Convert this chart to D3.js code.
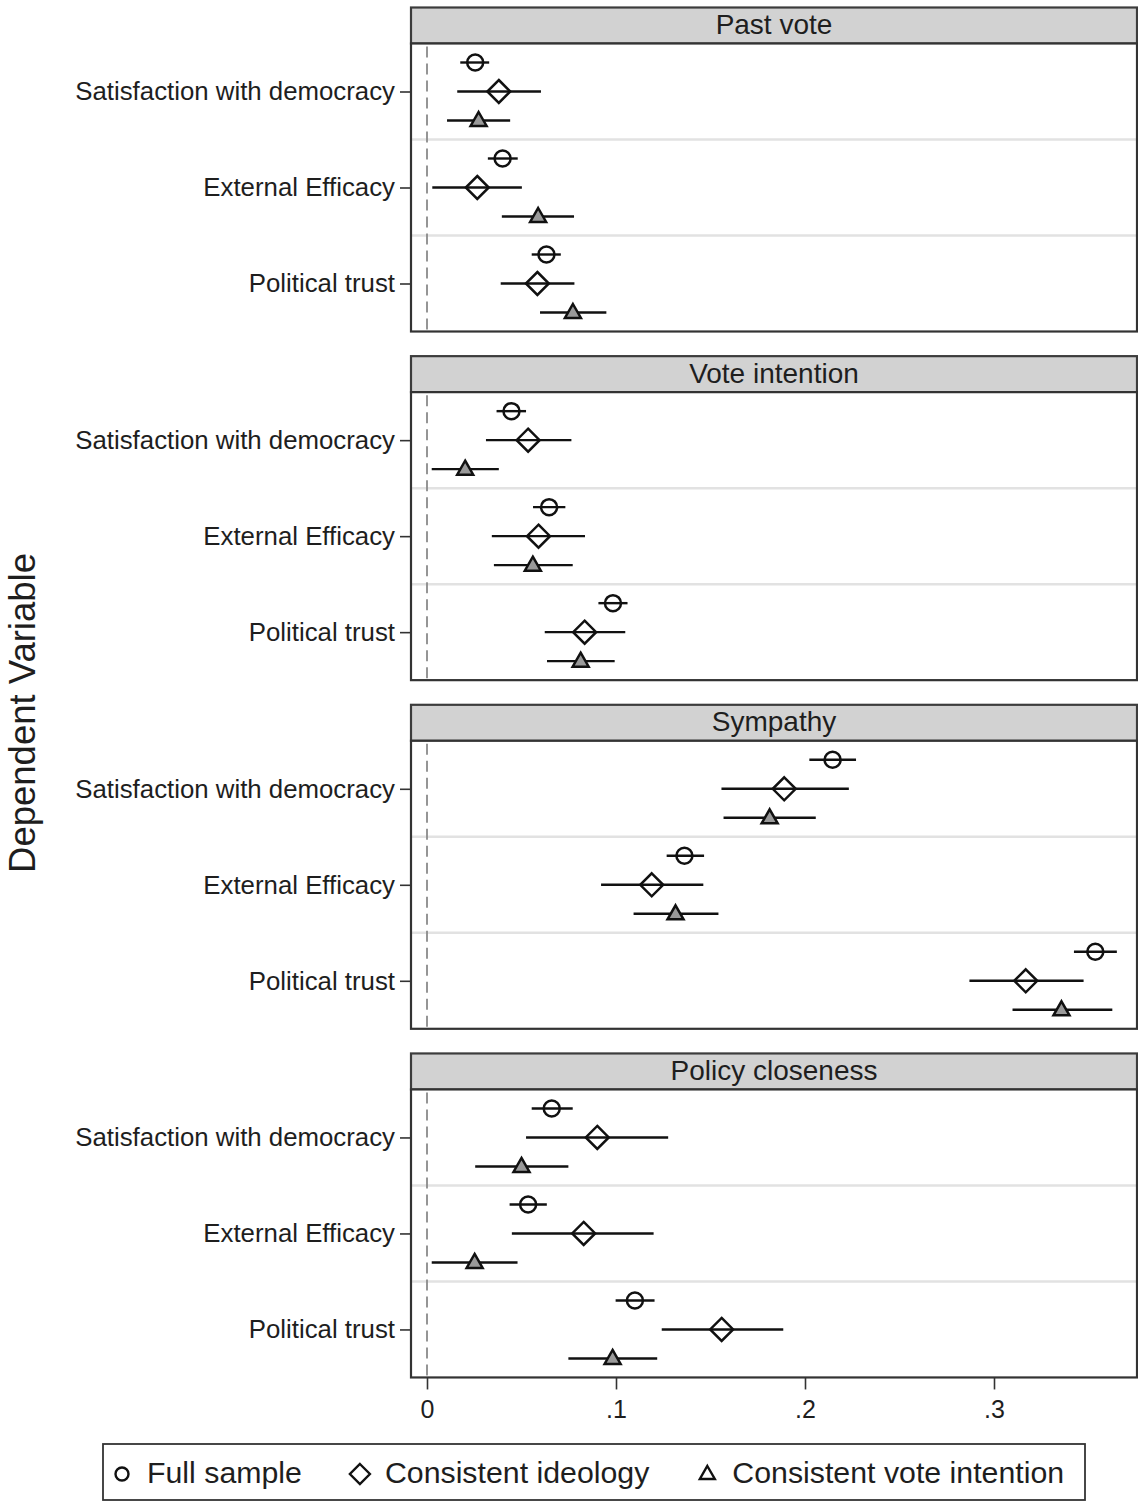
<!DOCTYPE html>
<html><head><meta charset="utf-8">
<script src="https://cdn.jsdelivr.net/npm/d3@7"></script>
<style>
html,body{margin:0;padding:0;background:#fff;}
svg{display:block;font-family:"Liberation Sans",Arial,sans-serif;}
</style></head>
<body>
<svg id="chart" width="1138" height="1502"></svg>
<script>
// ---------------- data ----------------
const panels = ["Past vote", "Vote intention", "Sympathy", "Policy closeness"];
const measures = ["Satisfaction with democracy", "External Efficacy", "Political trust"];
const seriesNames = ["Full sample", "Consistent ideology", "Consistent vote intention"];
const xTicks = [0, 0.1, 0.2, 0.3];
const xTickLabels = ["0", ".1", ".2", ".3"];

// rows: measures; columns: series (Full sample, Consistent ideology, Consistent vote intention)
const pastVoteEst = [[0.0255, 0.0380, 0.0273], [0.0400, 0.0266, 0.0588], [0.0632, 0.0584, 0.0772]];
const pastVoteLo  = [[0.0176, 0.0160, 0.0106], [0.0322, 0.0028, 0.0396], [0.0554, 0.0390, 0.0598]];
const pastVoteHi  = [[0.0329, 0.0603, 0.0440], [0.0480, 0.0502, 0.0778], [0.0708, 0.0780, 0.0949]];

const voteIntEst = [[0.0447, 0.0535, 0.0202], [0.0646, 0.0590, 0.0560], [0.0984, 0.0834, 0.0813]];
const voteIntLo  = [[0.0368, 0.0312, 0.0025], [0.0561, 0.0343, 0.0354], [0.0907, 0.0623, 0.0635]];
const voteIntHi  = [[0.0524, 0.0764, 0.0380], [0.0732, 0.0836, 0.0771], [0.1061, 0.1049, 0.0993]];

const sympathyEst = [[0.2146, 0.1890, 0.1813], [0.1362, 0.1189, 0.1315], [0.3536, 0.3168, 0.3357]];
const sympathyLo  = [[0.2023, 0.1558, 0.1569], [0.1268, 0.0921, 0.1093], [0.3423, 0.2870, 0.3098]];
const sympathyHi  = [[0.2270, 0.2232, 0.2057], [0.1466, 0.1462, 0.1542], [0.3650, 0.3474, 0.3626]];

const policyEst = [[0.0660, 0.0901, 0.0500], [0.0535, 0.0829, 0.0252], [0.1100, 0.1559, 0.0982]];
const policyLo  = [[0.0554, 0.0524, 0.0255], [0.0437, 0.0449, 0.0025], [0.0998, 0.1242, 0.0748]];
const policyHi  = [[0.0771, 0.1276, 0.0748], [0.0634, 0.1199, 0.0479], [0.1204, 0.1885, 0.1218]];

const panelEst = [pastVoteEst, voteIntEst, sympathyEst, policyEst];
const panelLo  = [pastVoteLo, voteIntLo, sympathyLo, policyLo];
const panelHi  = [pastVoteHi, voteIntHi, sympathyHi, policyHi];

// ---------------- layout ----------------
const svg = d3.select("#chart");
const plotLeft = 411, plotRight = 1137;
const headerH = 36, plotH = 288;
const textColor = "#1e1e1e";

const x = d3.scaleLinear().domain([0, 0.3]).range([427, 994]);

const panelScale = d3.scaleBand().domain(panels).range([7.5, 1377]).paddingInner(0.072);
const groupScale = d3.scaleBand().domain(measures).range([0, plotH]);
const rowScale = d3.scalePoint().domain(seriesNames).range([-29, 29]);

const circlePath = r => d3.symbol().type(d3.symbolCircle).size(Math.PI * r * r)();
function markerPath(s) {
  if (s === 0) { return circlePath(8); }
  if (s === 1) { const h = 11.5; return `M0,${-h}L${h},0L0,${h}L${-h},0Z`; }
  return `M0,-8.5L8,5.5L-8,5.5Z`;
}

panels.forEach((p, pi) => {
  const top = panelScale(p);
  const g = svg.append("g");
  // header
  g.append("rect").attr("x", plotLeft).attr("y", top).attr("width", plotRight - plotLeft).attr("height", headerH)
    .attr("fill", "#d2d2d2").attr("stroke", "#3c3c3c").attr("stroke-width", 2.2);
  g.append("text").attr("x", (plotLeft + plotRight) / 2).attr("y", top + headerH / 2 + 1)
    .attr("text-anchor", "middle").attr("dominant-baseline", "middle")
    .attr("font-size", 28).attr("fill", textColor).text(p);

  const pTop = top + headerH;
  g.append("rect").attr("x", plotLeft).attr("y", pTop).attr("width", plotRight - plotLeft).attr("height", plotH)
    .attr("fill", "#fff");
  // group separators
  measures.slice(1).forEach(m => {
    g.append("line").attr("x1", plotLeft).attr("x2", plotRight)
      .attr("y1", pTop + groupScale(m)).attr("y2", pTop + groupScale(m))
      .attr("stroke", "#e2e2e2").attr("stroke-width", 2.5);
  });
  // zero reference
  g.append("line").attr("x1", x(0)).attr("x2", x(0)).attr("y1", pTop + 3).attr("y2", pTop + plotH - 2)
    .attr("stroke", "#8a8a8a").attr("stroke-width", 1.8).attr("stroke-dasharray", "11,6");

  // y axis
  const yAxisScale = d3.scalePoint().domain(measures).range([groupScale.bandwidth() / 2, plotH - groupScale.bandwidth() / 2]);
  const ya = g.append("g").attr("transform", `translate(${plotLeft},${pTop})`)
    .call(d3.axisLeft(yAxisScale).tickSize(11).tickPadding(5));
  ya.select(".domain").remove();
  ya.selectAll(".tick line").attr("stroke", "#333").attr("stroke-width", 1.6);
  ya.selectAll(".tick text").attr("font-size", 25.8).attr("fill", textColor)
    .attr("font-family", "\"Liberation Sans\",Arial,sans-serif");

  // estimates
  const est = panelEst[pi], lo = panelLo[pi], hi = panelHi[pi];
  measures.forEach((m, mi) => {
    seriesNames.forEach((s, si) => {
      const cy = pTop + groupScale(m) + groupScale.bandwidth() / 2 + rowScale(s);
      g.append("line").attr("x1", x(lo[mi][si])).attr("x2", x(hi[mi][si]))
        .attr("y1", cy).attr("y2", cy).attr("stroke", "#111").attr("stroke-width", 2.4);
      g.append("path").attr("d", markerPath(si))
        .attr("transform", `translate(${x(est[mi][si])},${cy})`)
        .attr("fill", si === 2 ? "#9a9a9a" : "none").attr("stroke", "#111").attr("stroke-width", 2.5);
    });
  });

  // border
  g.append("rect").attr("x", plotLeft).attr("y", pTop).attr("width", plotRight - plotLeft).attr("height", plotH)
    .attr("fill", "none").attr("stroke", "#333").attr("stroke-width", 2.2);

  // x axis on last panel
  if (pi === panels.length - 1) {
    const xa = g.append("g").attr("transform", `translate(0,${pTop + plotH})`)
      .call(d3.axisBottom(x).tickValues(xTicks).tickFormat((d, i) => xTickLabels[i]).tickSize(12).tickPadding(11));
    xa.select(".domain").remove();
    xa.selectAll(".tick line").attr("stroke", "#333").attr("stroke-width", 1.6);
    xa.selectAll(".tick text").attr("font-size", 25).attr("fill", textColor)
      .attr("font-family", "\"Liberation Sans\",Arial,sans-serif");
  }
});

// y axis title
svg.append("text").attr("transform", "translate(35,713) rotate(-90)")
  .attr("text-anchor", "middle").attr("font-size", 36.5).attr("fill", textColor).text("Dependent Variable");

// legend
const legY = 1475;
const leg = svg.append("g");
leg.append("rect").attr("x", 103).attr("y", 1444).attr("width", 982).attr("height", 56)
  .attr("fill", "#fff").attr("stroke", "#333").attr("stroke-width", 1.8);
let cx = 122;
seriesNames.forEach((s, si) => {
  const mk = si === 0 ? d3.symbol().type(d3.symbolCircle).size(Math.PI * 6.5 * 6.5)()
           : si === 1 ? "M0,-10L10,0L0,10L-10,0Z" : "M0,-8L7.5,5L-7.5,5Z";
  leg.append("path").attr("d", mk).attr("transform", `translate(${cx},${legY - 1})`)
    .attr("fill", "none").attr("stroke", "#111").attr("stroke-width", 2.4);
  const t = leg.append("text").attr("x", cx + 25).attr("y", legY).attr("dominant-baseline", "middle")
    .attr("font-size", 30.3).attr("fill", textColor).text(s);
  cx = cx + 25 + t.node().getComputedTextLength() + 58;
});
</script>
</body></html>
